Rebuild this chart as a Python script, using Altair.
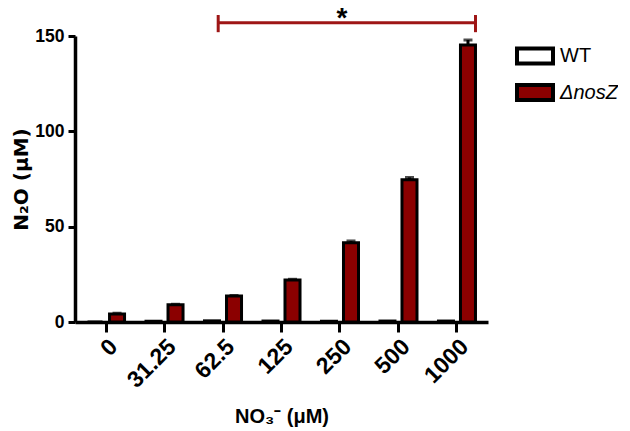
import altair as alt
import pandas as pd

cats = ["0", "31.25", "62.5", "125", "250", "500", "1000"]
groups = ["WT", "ΔnosZ"]
wt_vals = [0.0, 0.4, 0.6, 0.5, 0.4, 0.5, 0.5]
nosz_vals = [4.2, 9.0, 13.6, 22.0, 41.5, 74.6, 145.3]
nosz_err = [0.4, 0.3, 0.3, 0.4, 1.0, 1.2, 2.6]

rows = []
for c, w, n, e in zip(cats, wt_vals, nosz_vals, nosz_err):
    rows.append({"cat": c, "grp": "WT", "val": w, "hi": w})
    rows.append({"cat": c, "grp": "ΔnosZ", "val": n, "hi": n + e})
df = pd.DataFrame(rows)

bracket = pd.DataFrame([{"cat": "62.5", "cat_end": "1000", "y": 157, "lo": 152, "up": 161}])
star = pd.DataFrame([{"cat": "250", "y": 154.5, "t": "*"}])

RED = "#8b0000"
BRACKET = "#9e1616"
XT = "NO₃⁻ (μM)"

xscale = alt.Scale(domain=cats, paddingInner=0.367, paddingOuter=0.214)
xaxis = alt.Axis(labelAngle=-45, tickSize=10, labelFontSize=23, labelPadding=3,
                 titleFontSize=20, titlePadding=15)
yscale = alt.Scale(domain=[0, 150], nice=False)
yaxis = alt.Axis(values=[0, 50, 100, 150], tickSize=7, labelFontSize=17.5, labelPadding=4,
                 titleFontSize=20, titleFont="DejaVu Sans", titlePadding=3)
offs = alt.XOffset("grp:N", scale=alt.Scale(domain=groups, paddingInner=0.318), sort=groups)


def X(field="cat", **kw):
    return alt.X(f"{field}:N", scale=xscale, sort=cats, axis=xaxis, title=XT, **kw)


def Y(field="val"):
    return alt.Y(f"{field}:Q", scale=yscale, axis=yaxis, title="N₂O (μM)")


bars = alt.Chart(df).mark_bar(stroke="black", strokeWidth=3).encode(
    x=X(), xOffset=offs, y=Y(),
    fill=alt.Fill("grp:N", sort=groups,
                  scale=alt.Scale(domain=groups, range=["white", RED]),
                  legend=alt.Legend(
                      title=None, orient="none", legendX=442, legendY=2,
                      symbolType="M-1.125,-0.469L1.125,-0.469L1.125,0.469L-1.125,0.469Z",
                      symbolSize=1024, symbolStrokeColor="black", symbolStrokeWidth=4,
                      labelFont="Liberation Sans", labelFontSize=20, labelColor="black",
                      labelFontStyle=alt.ExprRef("datum.label == 'WT' ? 'normal' : 'italic'"),
                      rowPadding=2.5, labelOffset=7, padding=0)),
)

nz = df[df.grp == "ΔnosZ"]
err = alt.Chart(nz).mark_rule(color="black", strokeWidth=3).encode(
    x=X(), xOffset=offs, y=Y(), y2="hi:Q")
cap = alt.Chart(nz).mark_tick(color="black", thickness=3, size=9, orient="horizontal").encode(
    x=X(), xOffset=offs, y=Y("hi"))

br = alt.Chart(bracket).mark_rule(color=BRACKET, strokeWidth=3).encode(
    x=X(bandPosition=0.37), x2=alt.X2("cat_end", bandPosition=1.0), y=Y("y"))
capL = alt.Chart(bracket).mark_rule(color=BRACKET, strokeWidth=3).encode(
    x=X(bandPosition=0.37), y=Y("lo"), y2="up:Q")
capR = alt.Chart(bracket).mark_rule(color=BRACKET, strokeWidth=3).encode(
    x=X("cat_end", bandPosition=1.0), y=Y("lo"), y2="up:Q")
st = alt.Chart(star).mark_text(font="Liberation Sans", fontWeight="bold", fontSize=28,
                               dx=2, color="black", baseline="alphabetic").encode(
    x=X(), y=Y("y"), text="t:N")

chart = alt.layer(bars, err, cap, br, capL, capR, st).properties(
    width=413, height=286,
    autosize=alt.AutoSizeParams(type="none"),
    padding={"left": 67, "top": 28, "right": 130, "bottom": 105},
).configure_view(stroke=None).configure_axis(
    domainColor="black", domainWidth=3.5, tickColor="black", tickWidth=3,
    labelColor="black", titleColor="black", labelFont="Liberation Sans",
    titleFont="Liberation Sans", labelFontWeight="bold", titleFontWeight="bold",
    grid=False,
)

chart.save("out.html", embed_options={"renderer": "svg", "actions": False})
